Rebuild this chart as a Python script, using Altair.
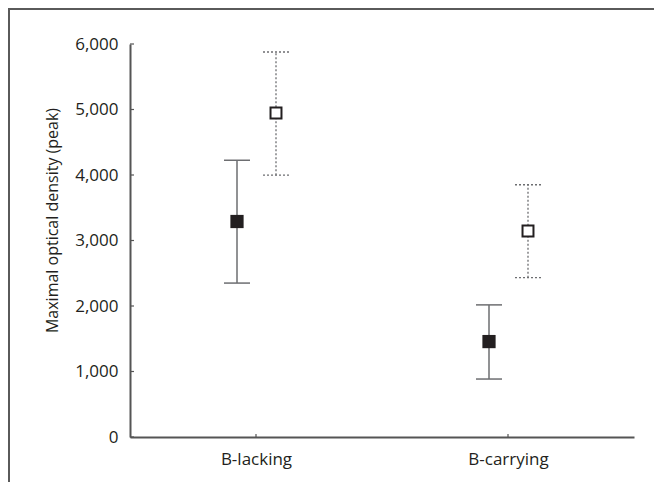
import altair as alt
import pandas as pd

categories = ["B-lacking", "B-carrying"]
filled_mean = [3290, 1457]
filled_lo = [2350, 885]
filled_hi = [4225, 2017]
open_mean = [4948, 3145]
open_lo = [3998, 2433]
open_hi = [5878, 3851]
y_ticks = [0, 1000, 2000, 3000, 4000, 5000, 6000]

rows = []
for i, c in enumerate(categories):
    rows.append({"cat": c, "grp": "filled", "mean": filled_mean[i], "lo": filled_lo[i], "hi": filled_hi[i]})
    rows.append({"cat": c, "grp": "open", "mean": open_mean[i], "lo": open_lo[i], "hi": open_hi[i]})
df = pd.DataFrame(rows)
ticks_df = pd.DataFrame({"t": y_ticks})
cats_df = pd.DataFrame({"cat": categories})

W, H = 504, 393
FONT = "Open Sans"
AX = "#555555"
INK = "#231f20"

xaxis = alt.Axis(title=None, labelAngle=0, ticks=False, labelFont=FONT, labelFontSize=17,
                 labelColor=INK, labelPadding=14, domainColor=AX, domainWidth=2)
xscale = alt.Scale(type="point", padding=0.5)
yaxis = alt.Axis(title="Maximal optical density (peak)", values=y_ticks, format=",d",
                 ticks=False, grid=False, labelFont=FONT, labelFontSize=17, labelColor=INK,
                 labelPadding=12, titleFont=FONT, titleFontSize=16, titleFontWeight="normal",
                 titleColor=INK, titlePadding=14, titleY=176, domainColor=AX, domainWidth=2)
yscale = alt.Scale(domain=[0, 6000], nice=False, zero=True)


def X():
    return alt.X("cat:N", sort=categories, scale=xscale, axis=xaxis)


def Y(field):
    return alt.Y(field, scale=yscale, axis=yaxis)


base = alt.Chart(df)
f = base.transform_filter(alt.datum.grp == "filled")
o = base.transform_filter(alt.datum.grp == "open")

OFF_F, OFF_O = -19, 20
CAP = 13
ECOL = "#6d6e71"

f_bar = f.mark_rule(color=ECOL, strokeWidth=1.5, xOffset=OFF_F, x2Offset=OFF_F).encode(
    x=X(), y=Y("lo:Q"), y2="hi:Q")
f_top = f.mark_rule(color=ECOL, strokeWidth=1.5, xOffset=OFF_F - CAP, x2Offset=OFF_F + CAP).encode(
    x=X(), x2="cat:N", y=Y("hi:Q"))
f_bot = f.mark_rule(color=ECOL, strokeWidth=1.5, xOffset=OFF_F - CAP, x2Offset=OFF_F + CAP).encode(
    x=X(), x2="cat:N", y=Y("lo:Q"))
f_pt = f.mark_point(shape="square", filled=True, size=175, color=INK, opacity=1, xOffset=OFF_F).encode(
    x=X(), y=Y("mean:Q"))

o_bar = o.mark_rule(color=ECOL, strokeWidth=1.3, strokeDash=[2, 2], xOffset=OFF_O, x2Offset=OFF_O).encode(
    x=X(), y=Y("lo:Q"), y2="hi:Q")
o_top = o.mark_rule(color=ECOL, strokeWidth=1.3, strokeDash=[2, 2], xOffset=OFF_O - CAP, x2Offset=OFF_O + CAP).encode(
    x=X(), x2="cat:N", y=Y("hi:Q"))
o_bot = o.mark_rule(color=ECOL, strokeWidth=1.3, strokeDash=[2, 2], xOffset=OFF_O - CAP, x2Offset=OFF_O + CAP).encode(
    x=X(), x2="cat:N", y=Y("lo:Q"))
o_pt = o.mark_point(shape="square", filled=True, size=120, fill="white", stroke=INK, strokeWidth=2,
                    opacity=1, xOffset=OFF_O).encode(x=X(), y=Y("mean:Q"))

ytk = alt.Chart(ticks_df).mark_rule(color=AX, strokeWidth=1.2).encode(
    y=Y("t:Q"), x=alt.value(0), x2=alt.value(4))
xtk = alt.Chart(cats_df).mark_rule(color=AX, strokeWidth=1.2).encode(
    x=X(), y=alt.value(H - 3), y2=alt.value(H))

frame_l = alt.Chart(cats_df).mark_rule(color="#5a5a5a", strokeWidth=2).encode(
    x=alt.value(-121), y=alt.value(-35), y2=alt.value(H + 45))
frame_t = alt.Chart(cats_df).mark_rule(color="#5a5a5a", strokeWidth=2).encode(
    y=alt.value(-35), x=alt.value(-122), x2=alt.value(W + 20))

chart = alt.layer(frame_l, frame_t, f_bar, f_top, f_bot, o_bar, o_top, o_bot, ytk, xtk, f_pt, o_pt).properties(
    width=W, height=H,
    autosize=alt.AutoSizeParams(type="none"),
    padding={"left": 122, "top": 36, "right": 20, "bottom": 45},
).configure_view(stroke=None)

chart.save("out.html", embed_options={"renderer": "svg", "actions": False})
